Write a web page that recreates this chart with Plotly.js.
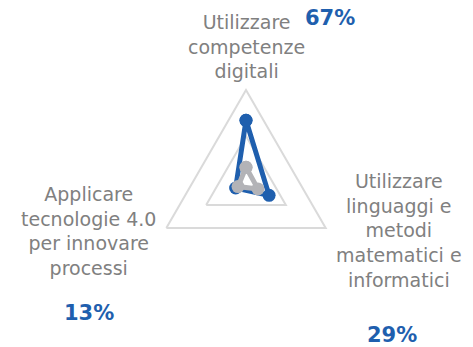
<!DOCTYPE html>
<html>
<head>
<meta charset="utf-8">
<script src="https://cdn.plot.ly/plotly-3.0.1.min.js"></script>
<style>html,body{margin:0;padding:0;background:#fff;}#chart{width:473px;height:347px;}</style>
</head>
<body>
<div id="chart"></div>
<script>
// Data
const categories = [
  'Utilizzare competenze digitali',
  'Utilizzare linguaggi e metodi matematici e informatici',
  'Applicare tecnologie 4.0 per innovare processi'
];
const categoryLabels = [
  'Utilizzare<br>competenze<br>digitali',
  'Utilizzare<br>linguaggi e<br>metodi<br>matematici e<br>informatici',
  'Applicare<br>tecnologie 4.0<br>per innovare<br>processi'
];
const seriesBlue = [0.67, 0.29, 0.13];
const seriesGray = [0.16, 0.15, 0.10];
const radialTicks = [0.5, 1];

const BLUE = '#1F5FAE';
const GRAY = '#B3B3B7';
const TEXT = '#808080';
const GRID = '#DADADA';

function closed(a) { return a.concat([a[0]]); }

const traces = [
  {
    type: 'scatterpolar', mode: 'lines+markers',
    r: closed(seriesBlue), theta: closed(categories),
    line: {color: BLUE, width: 5}, marker: {color: BLUE, size: 13},
    hoverinfo: 'skip', showlegend: false
  },
  {
    type: 'scatterpolar', mode: 'lines+markers',
    r: closed(seriesGray), theta: closed(categories),
    line: {color: GRAY, width: 5}, marker: {color: GRAY, size: 13},
    hoverinfo: 'skip', showlegend: false
  }
];

// label placement (paper coords)
const labelPos = [
  {x: 246, y: 46},
  {x: 399, y: 230},
  {x: 88, y: 231}
];
const pctPos = [
  {x: 330, y: 18},
  {x: 392, y: 335},
  {x: 89, y: 313}
];
const W = 473, H = 347;
const annotations = [];
categoryLabels.forEach((t, i) => {
  annotations.push({
    text: t, xref: 'paper', yref: 'paper',
    x: labelPos[i].x / W, y: 1 - labelPos[i].y / H,
    xanchor: 'center', yanchor: 'middle', showarrow: false, align: 'center',
    font: {family: 'DejaVu Sans', size: 19, color: TEXT}
  });
  annotations.push({
    text: '<b>' + Math.round(seriesBlue[i] * 100) + '%</b>', xref: 'paper', yref: 'paper',
    x: pctPos[i].x / W, y: 1 - pctPos[i].y / H,
    xanchor: 'center', yanchor: 'middle', showarrow: false,
    font: {family: 'DejaVu Sans', size: 21, color: BLUE}
  });
});

const layout = {
  width: W, height: H,
  margin: {l: 0, r: 0, t: 0, b: 0},
  paper_bgcolor: '#fff',
  showlegend: false,
  polar: {
    domain: {x: [154 / W, 338 / W], y: [73 / H, 257 / H]},
    bgcolor: 'rgba(0,0,0,0)',
    gridshape: 'linear',
    radialaxis: {
      range: [0, 1], tickvals: radialTicks, showticklabels: false, ticks: '',
      showline: false, gridcolor: GRID, gridwidth: 2
    },
    angularaxis: {
      direction: 'clockwise', rotation: 90,
      showticklabels: false, ticks: '', showgrid: false,
      showline: true, linecolor: GRID, linewidth: 2
    }
  },
  annotations: annotations
};

Plotly.newPlot('chart', traces, layout, {displayModeBar: false, staticPlot: true});
</script>
</body>
</html>
